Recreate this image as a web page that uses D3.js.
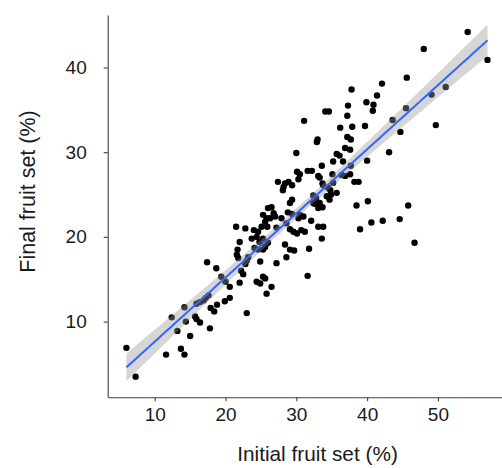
<!DOCTYPE html>
<html>
<head>
<meta charset="utf-8">
<script src="https://cdn.jsdelivr.net/npm/d3@7"></script>
<style>
  body { margin: 0; background: #fff; }
  svg { display: block; }
  .axis path, .axis line { stroke: #404040; stroke-width: 1.1; }
  .axis text { font-family: Arial, "Liberation Sans", sans-serif; font-size: 19px; fill: #1a1a1a; }
  .title { font-family: Arial, "Liberation Sans", sans-serif; fill: #1a1a1a; }
</style>
</head>
<body>
<svg id="chart" width="502" height="468"></svg>
<script>
// initial fruit set (%) and final fruit set (%)
const initialSet = [
  6.0, 7.3, 11.6, 13.7, 14.2, 12.4, 13.2, 14.4, 15.0, 14.2, 15.7, 15.9, 16.4, 17.8, 15.9, 16.4, 16.9, 17.2, 17.6, 17.4, 17.9, 18.4,
  18.8, 19.9, 20.6, 20.6, 19.4, 20.0, 18.7, 22.0, 22.2, 22.5, 23.0, 21.6, 21.8, 23.0, 22.8, 23.2, 22.0, 21.5, 22.8, 24.0, 24.6, 23.7, 24.4, 24.1, 24.6, 25.3, 24.9, 24.4, 24.9, 25.3, 25.8, 21.7, 25.3, 24.8, 25.6,
  26.0, 26.5, 25.3, 25.8, 26.8, 26.3, 27.0, 25.6, 25.1, 25.9, 27.9, 28.8, 29.4, 30.3, 27.2, 28.6, 29.1, 29.6, 30.1, 26.0, 28.4, 29.1, 29.7, 28.6, 27.2, 25.6, 26.5, 29.1, 29.4, 27.4, 28.4, 28.9, 28.2, 29.4, 28.1, 30.0, 30.1, 30.5, 30.3,
  30.5, 31.0, 32.1, 30.7, 31.2, 31.8, 31.6, 32.6, 33.3, 33.7, 34.7, 33.1, 33.8, 33.6, 31.1, 31.6, 32.2, 33.1, 33.3, 33.7, 33.8, 34.8, 34.5, 35.7, 34.9, 32.4, 32.8, 34.3, 32.4, 35.1, 33.6, 35.2, 35.7, 36.1, 33.0, 32.9, 34.1, 34.6, 36.2, 33.1, 35.2,
  37.8, 37.3, 39.9, 40.9, 40.8, 37.2, 37.9, 39.7, 37.2, 37.7, 36.9, 37.6, 40.0, 36.6, 37.7, 36.4, 36.9, 37.6, 38.2, 38.8, 38.5, 40.1, 39.0, 40.6, 42.2, 44.6, 45.8, 46.7, 41.4, 42.1, 45.6, 45.5, 43.6, 44.7, 43.1, 48.0, 54.2, 57.0, 51.1, 49.1, 49.7
];
const finalSet = [
  6.9, 3.5, 6.1, 6.8, 6.1, 10.5, 8.9, 10.0, 8.3, 11.7, 10.6, 10.3, 9.9, 9.2, 12.1, 12.3, 12.5, 12.8, 13.1, 17.0, 11.6, 11.2,
  12.0, 12.4, 12.8, 14.1, 15.3, 14.7, 16.3, 14.6, 16.0, 15.6, 11.0, 17.9, 17.5, 17.2, 16.8, 17.6, 19.4, 21.2, 21.0, 20.8, 20.6, 19.8, 20.0, 18.7, 18.5, 18.5, 17.1, 14.7, 14.5, 15.3, 13.3, 18.5, 19.8, 19.4, 18.8,
  23.4, 23.5, 22.6, 22.2, 22.8, 22.2, 22.4, 21.8, 21.2, 21.2, 22.2, 22.9, 22.7, 22.2, 21.1, 21.6, 20.9, 20.6, 20.4, 19.3, 19.1, 18.5, 18.4, 17.6, 16.9, 15.1, 14.1, 24.0, 24.4, 26.5, 26.3, 26.5, 25.9, 26.1, 25.5, 29.9, 27.7, 27.4, 26.8,
  22.6, 22.4, 21.9, 20.8, 20.6, 18.6, 15.4, 23.9, 24.0, 23.5, 24.4, 21.2, 21.2, 19.8, 33.7, 27.8, 27.8, 27.2, 27.0, 26.3, 26.1, 25.5, 25.8, 25.2, 25.0, 24.9, 24.6, 24.8, 24.0, 27.4, 28.4, 28.9, 29.8, 29.6, 31.5, 31.2, 34.8, 34.8, 32.9, 23.4, 26.4,
  37.4, 35.5, 35.9, 35.6, 34.9, 34.3, 33.0, 33.1, 31.8, 31.5, 30.5, 30.3, 29.0, 28.9, 28.4, 27.3, 27.2, 27.4, 26.5, 26.5, 23.7, 24.2, 20.9, 21.7, 21.9, 22.1, 23.7, 19.3, 36.7, 38.1, 38.8, 35.2, 33.8, 32.4, 30.0, 42.2, 44.2, 40.9, 37.7, 36.8, 33.2
];
const xTicks = [10, 20, 30, 40, 50];
const yTicks = [10, 20, 30, 40];

const points = initialSet.map((d, i) => ({ x: d, y: finalSet[i] }));

const svg = d3.select("#chart");
const x = d3.scaleLinear().domain([3.36, 59.05]).range([107.7, 502]);
const y = d3.scaleLinear().domain([1.06, 46.2]).range([397.3, 15]);

// least squares fit with 95% confidence band
const n = points.length;
const mx = d3.mean(points, d => d.x), my = d3.mean(points, d => d.y);
const sxx = d3.sum(points, d => (d.x - mx) * (d.x - mx));
const sxy = d3.sum(points, d => (d.x - mx) * (d.y - my));
const slope = sxy / sxx, icpt = my - slope * mx;
const sse = d3.sum(points, d => Math.pow(d.y - (icpt + slope * d.x), 2));
const s = Math.sqrt(sse / (n - 2));
const tval = 1.973;
const [x0, x1] = d3.extent(points, d => d.x);
const grid = d3.range(0, 81).map(i => x0 + (x1 - x0) * i / 80);
const fit = grid.map(g => {
  const yh = icpt + slope * g;
  const se = s * Math.sqrt(1 / n + (g - mx) * (g - mx) / sxx);
  return { x: g, y: yh, lo: yh - tval * se, hi: yh + tval * se };
});

svg.append("g")
  .attr("class", "axis")
  .attr("transform", "translate(0,397.3)")
  .call(d3.axisBottom(x).tickValues(xTicks).tickSizeInner(4).tickSizeOuter(0).tickPadding(6));

svg.append("g")
  .attr("class", "axis")
  .attr("transform", "translate(107.7,0)")
  .call(d3.axisLeft(y).tickValues(yTicks).tickSizeInner(4).tickSizeOuter(0).tickPadding(17));

svg.selectAll(".dot")
  .data(points)
  .enter().append("circle")
  .attr("class", "dot")
  .attr("cx", d => x(d.x))
  .attr("cy", d => y(d.y))
  .attr("r", 3.2)
  .attr("fill", "#000");

svg.append("path")
  .datum(fit)
  .attr("fill", "#999")
  .attr("fill-opacity", 0.4)
  .attr("d", d3.area().x(d => x(d.x)).y0(d => y(d.lo)).y1(d => y(d.hi)));

svg.append("path")
  .datum(fit)
  .attr("fill", "none")
  .attr("stroke", "#3366ff")
  .attr("stroke-width", 2)
  .attr("d", d3.line().x(d => x(d.x)).y(d => y(d.y)));

svg.append("text")
  .attr("class", "title")
  .attr("x", 317.5)
  .attr("y", 461)
  .attr("font-size", 20.8)
  .attr("text-anchor", "middle")
  .text("Initial fruit set (%)");

svg.append("text")
  .attr("class", "title")
  .attr("transform", "translate(35,191.5) rotate(-90)")
  .attr("font-size", 21.5)
  .attr("text-anchor", "middle")
  .text("Final fruit set (%)");
</script>
</body>
</html>
